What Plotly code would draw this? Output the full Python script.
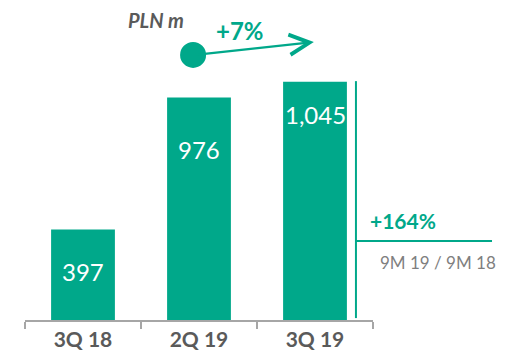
import plotly.graph_objects as go

# ── Data ─────────────────────────────────────────────────────────────────────
quarters = ["3Q 18", "2Q 19", "3Q 19"]
revenue = [397, 976, 1045]
bar_labels = ["397", "976", "1,045"]
label_shift = [-42, -52, -33]      # px below bar top for the value labels
qoq_change = "+7%"
ytd_change = "+164%"
ytd_caption = "9M 19 / 9M 18"
unit_label = "PLN m"

GREEN = "#00A88A"
GREY = "#5A5A5A"
FONT = "Lato"

fig = go.Figure()
fig.add_trace(go.Bar(
    x=quarters, y=revenue, marker=dict(color=GREEN, line_width=0),
    hoverinfo="skip",
))

# value labels inside bars
for q, v, txt, dy in zip(quarters, revenue, bar_labels, label_shift):
    fig.add_annotation(
        x=q, y=v, yshift=dy, text=txt, showarrow=False,
        font=dict(family=FONT, size=24, color="white"),
    )


def note(x, y, text, size, color, xanchor="center"):
    fig.add_annotation(xref="paper", yref="paper", x=x, y=y, text=text,
                       showarrow=False, xanchor=xanchor, yanchor="middle",
                       font=dict(family=FONT, size=size, color=color))


# ── Decorations (paper coords) ───────────────────────────────────────────────
# growth arrow from dot
fig.add_shape(type="circle", xref="paper", yref="paper",
              xsizemode="pixel", ysizemode="pixel",
              xanchor=0.483, yanchor=0.971, x0=-13, x1=13, y0=-13, y1=13,
              fillcolor=GREEN, line_width=0)
fig.add_annotation(xref="paper", yref="paper", x=0.83, y=1.018,
                   ax=-120, ay=13, showarrow=True, arrowhead=5,
                   arrowsize=1.8, arrowwidth=2.2, arrowcolor=GREEN, text="")
note(0.618, 1.062, f"<b>{qoq_change}</b>", 24, GREEN)
note(0.376, 1.099, f"<b><i>{unit_label}</i></b>", 20, GREY)

# 9M bracket on the right
fig.add_shape(type="line", xref="paper", yref="paper",
              x0=0.951, x1=0.951, y0=0.007, y1=0.875,
              line=dict(color=GREEN, width=2))
fig.add_shape(type="line", xref="paper", yref="paper",
              x0=0.951, x1=1.342, y0=0.289, y1=0.289,
              line=dict(color=GREEN, width=2))
note(1.086, 0.366, f"<b>{ytd_change}</b>", 21, GREEN)
note(1.014, 0.212, ytd_caption, 17, "#7F7F7F", xanchor="left")

fig.update_xaxes(
    showgrid=False, showline=True, linecolor="#A6A6A6", linewidth=1.5,
    ticks="outside", tickcolor="#A6A6A6", ticklen=7, tickwidth=1.5,
    tickson="boundaries",
    tickfont=dict(family=FONT, size=21, color=GREY, weight="bold"),
)
fig.update_yaxes(visible=False, range=[0, 1198])

fig.update_layout(
    width=507, height=352,
    margin=dict(l=25, r=134, t=47, b=32, autoexpand=False),
    bargap=0.45,
    showlegend=False,
    paper_bgcolor="white", plot_bgcolor="white",
)

fig.write_html("out.html", config={"displayModeBar": False},
               post_script="document.body.style.margin='0';")
